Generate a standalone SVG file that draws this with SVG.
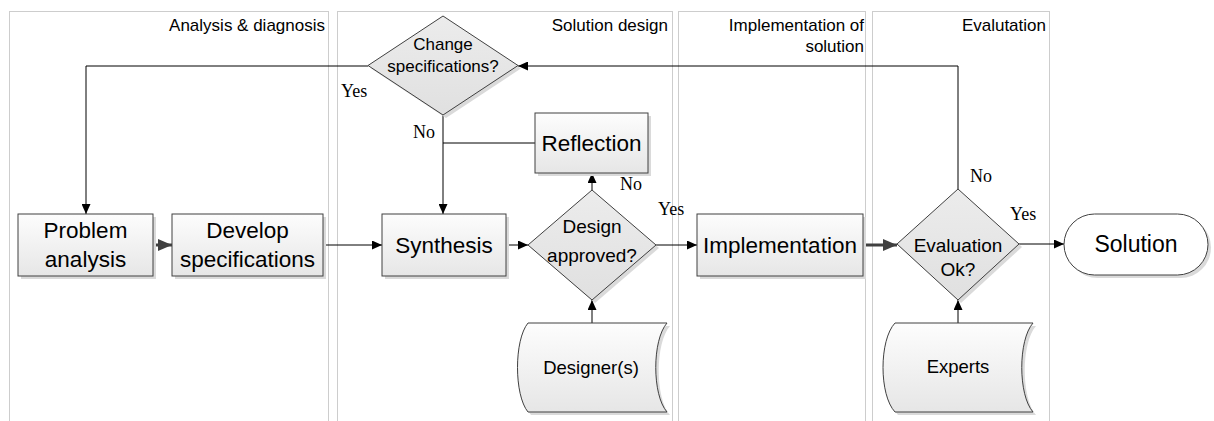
<svg xmlns="http://www.w3.org/2000/svg" width="1214" height="421" viewBox="0 0 1214 421">
  <defs>
    <linearGradient id="boxFill" x1="0" y1="0" x2="0" y2="1">
      <stop offset="0" stop-color="#fdfdfd"/>
      <stop offset="1" stop-color="#e6e6e6"/>
    </linearGradient>
    <linearGradient id="diaFill" x1="0" y1="0" x2="0" y2="1">
      <stop offset="0" stop-color="#ececec"/>
      <stop offset="1" stop-color="#e0e0e0"/>
    </linearGradient>
    <marker id="arr" markerWidth="10" markerHeight="9" refX="10" refY="4.5" orient="auto" markerUnits="userSpaceOnUse">
      <path d="M0,0 L10,4.5 L0,9 Z" fill="#000"/>
    </marker>
    <marker id="arrBig" markerWidth="14" markerHeight="12" refX="14" refY="6" orient="auto" markerUnits="userSpaceOnUse">
      <path d="M0,0 L14,6 L0,12 Z" fill="#404040"/>
    </marker>
  </defs>
  <style>
    .lane { fill: none; stroke: #9a9a9a; stroke-width: 1; stroke-dasharray: 1 1; }
    .laneLabel { font-family: "Liberation Sans", Arial, sans-serif; font-size: 17px; fill: #000; text-anchor: end; }
    .box { fill: url(#boxFill); stroke: #404040; stroke-width: 1; }
    .dia { fill: url(#diaFill); stroke: #404040; stroke-width: 1; }
    .shadow { fill: #dadada; stroke: none; }
    .t22 { font-family: "Liberation Sans", Arial, sans-serif; font-size: 22.5px; fill: #000; text-anchor: middle; }
    .t18 { font-family: "Liberation Sans", Arial, sans-serif; font-size: 18.5px; fill: #000; text-anchor: middle; }
    .t19 { font-family: "Liberation Sans", Arial, sans-serif; font-size: 19px; fill: #000; text-anchor: middle; }
    .t17 { font-family: "Liberation Sans", Arial, sans-serif; font-size: 17px; fill: #000; text-anchor: middle; }
    .yn { font-family: "Liberation Serif", "Times New Roman", serif; font-size: 18px; fill: #000; }
    .conn { fill: none; stroke: #000; stroke-width: 1; marker-end: url(#arr); }
    .plain { fill: none; stroke: #000; stroke-width: 1; }
    .thick { fill: none; stroke: #404040; stroke-width: 3; marker-end: url(#arrBig); }
  </style>

  <!-- swimlanes -->
  <g id="lanes">
    <rect class="lane" x="9.5" y="11.5" width="319" height="420"/>
    <rect class="lane" x="337.5" y="11.5" width="335" height="420"/>
    <rect class="lane" x="678.5" y="11.5" width="187" height="420"/>
    <rect class="lane" x="872.5" y="11.5" width="177" height="420"/>
    <text class="laneLabel" x="325" y="31">Analysis &amp; diagnosis</text>
    <text class="laneLabel" x="668" y="31">Solution design</text>
    <text class="laneLabel" x="864" y="31">Implementation of</text>
    <text class="laneLabel" x="864" y="52">solution</text>
    <text class="laneLabel" x="1046" y="31">Evalutation</text>
  </g>

  <!-- connectors -->
  <g id="connectors">
    <path class="conn" d="M368,66 H86 V214"/>
    <path class="thick" d="M153,245 H172"/>
    <path class="conn" d="M323,245 H382"/>
    <path class="conn" d="M443,115 V214"/>
    <path class="plain" d="M535,143 H443"/>
    <path class="conn" d="M506,245 H528"/>
    <path class="conn" d="M592,190 V173"/>
    <path class="conn" d="M656,245 H697"/>
    <path class="thick" d="M863,245 H897"/>
    <path class="conn" d="M958,189 V66 H518"/>
    <path class="conn" d="M1019,244 H1064"/>
    <path class="conn" d="M592,323 V300"/>
    <path class="conn" d="M958,323 V300"/>
    <text class="yn" x="341" y="97">Yes</text>
    <text class="yn" x="413" y="138">No</text>
    <text class="yn" x="620" y="190">No</text>
    <text class="yn" x="658" y="215">Yes</text>
    <text class="yn" x="970" y="182">No</text>
    <text class="yn" x="1010" y="220">Yes</text>
  </g>

  <g id="change-specifications">
    <polygon class="shadow" points="446,19 521,68.5 446,118 371,68.5"/>
    <polygon class="dia" points="443,16 518,65.5 443,115 368,65.5"/>
    <text class="t17" x="443" y="50">Change</text>
    <text class="t17" x="443" y="72">specifications?</text>
  </g>

  <g id="problem-analysis">
    <rect class="shadow" x="21" y="217" width="135" height="62"/>
    <rect class="box" x="18" y="214" width="135" height="62"/>
    <text class="t22" x="85.5" y="238">Problem</text>
    <text class="t22" x="85.5" y="267">analysis</text>
  </g>

  <g id="develop-specifications">
    <rect class="shadow" x="175" y="217" width="151" height="62"/>
    <rect class="box" x="172" y="214" width="151" height="62"/>
    <text class="t22" x="247.5" y="238">Develop</text>
    <text class="t22" x="247.5" y="267">specifications</text>
  </g>

  <g id="reflection">
    <rect class="shadow" x="538" y="116" width="113" height="60"/>
    <rect class="box" x="535" y="113" width="113" height="60"/>
    <text class="t22" x="591.5" y="151">Reflection</text>
  </g>

  <g id="synthesis">
    <rect class="shadow" x="385" y="217" width="124" height="62"/>
    <rect class="box" x="382" y="214" width="124" height="62"/>
    <text class="t22" x="444" y="253">Synthesis</text>
  </g>

  <g id="design-approved">
    <polygon class="shadow" points="595,193 659,248 595,303 531,248"/>
    <polygon class="dia" points="592,190 656,245 592,300 528,245"/>
    <text class="t19" x="592" y="233">Design</text>
    <text class="t19" x="592" y="262">approved?</text>
  </g>

  <g id="designers">
    <path class="shadow" d="M531,326 L670,326 C655,343 655,398 670,415 L531,415 C517,398 517,343 531,326 Z"/>
    <path class="box" d="M528,323 L667,323 C652,340 652,395 667,412 L528,412 C514,395 514,340 528,323 Z"/>
    <text class="t18" x="591" y="374">Designer(s)</text>
  </g>

  <g id="implementation">
    <rect class="shadow" x="700" y="217" width="166" height="62"/>
    <rect class="box" x="697" y="214" width="166" height="62"/>
    <text class="t22" x="780" y="253">Implementation</text>
  </g>

  <g id="evaluation-ok">
    <polygon class="shadow" points="961,192 1022,247 961,303 900,247"/>
    <polygon class="dia" points="958,189 1019,244 958,300 897,244"/>
    <text class="t19" x="958" y="252">Evaluation</text>
    <text class="t19" x="958" y="276">Ok?</text>
  </g>

  <g id="experts">
    <path class="shadow" d="M898,326 L1036,326 C1021,343 1021,398 1036,415 L898,415 C882,398 882,343 898,326 Z"/>
    <path class="box" d="M895,323 L1033,323 C1018,340 1018,395 1033,412 L895,412 C879,395 879,340 895,323 Z"/>
    <text class="t18" x="958" y="373">Experts</text>
  </g>

  <g id="solution">
    <rect class="shadow" x="1067" y="217" width="144" height="61" rx="30.5"/>
    <rect class="box" x="1064" y="214" width="144" height="61" rx="30.5" style="fill:#fff"/>
    <text class="t22" x="1136" y="252" style="font-size:23px">Solution</text>
  </g>
</svg>
